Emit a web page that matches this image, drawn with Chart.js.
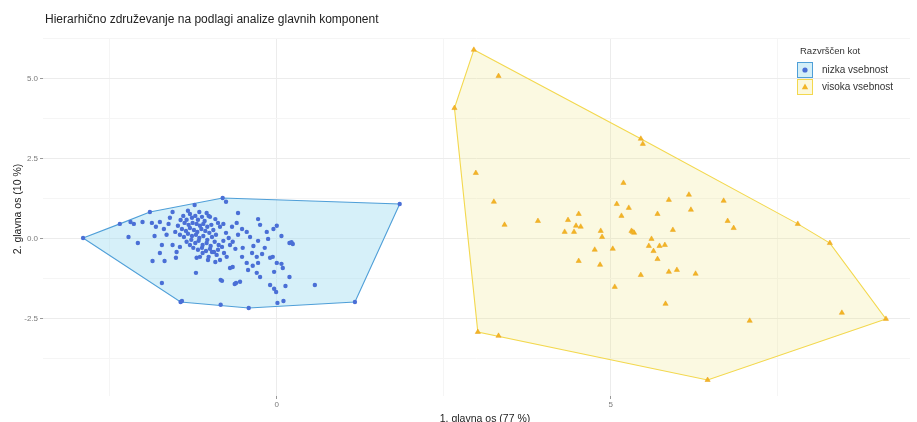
<!DOCTYPE html>
<html>
<head>
<meta charset="utf-8">
<script src="https://cdn.jsdelivr.net/npm/chart.js@4/dist/chart.umd.min.js"></script>
<style>
  html, body { margin: 0; padding: 0; background: #ffffff; }
  #wrap { width: 917px; height: 422px; position: relative; }
</style>
</head>
<body>
<div id="wrap"><canvas id="c" width="917" height="422"></canvas></div>
<script>
// PCA scores: [1. glavna os, 2. glavna os]
const nizkaPoints = [
  [-2.90,0.03],[-2.35,0.47],[-1.90,0.84],[-0.81,1.28],[1.84,1.09],[1.17,-1.97],[-0.42,-2.16],[-1.44,-1.97],
  [-2.19,0.53],[-2.14,0.47],[-2.01,0.53],[-1.87,0.50],[-1.75,0.53],[-2.22,0.06],[-2.08,-0.13],[-1.60,0.66],
  [-1.56,0.84],[-1.81,0.38],[-1.69,0.31],[-1.62,0.47],[-1.65,0.13],[-1.83,0.09],[-1.75,-0.44],[-1.86,-0.69],
  [-1.68,-0.69],[-1.72,-0.19],[-1.56,-0.19],[-1.50,-0.41],[-1.51,-0.59],[-1.45,-0.25],[-1.23,1.06],[-0.76,1.16],
  [-1.05,0.81],[-1.00,0.69],[-1.21,-1.06],[-1.72,-1.38],[-0.84,-1.28],[-0.63,-1.41],[-0.55,-1.34],[-0.70,-0.91],
  [-1.03,-0.66],[-0.58,0.81],[-0.85,0.38],[-0.67,0.38],[-0.25,0.44],[0.00,0.41],[-0.45,0.22],[-0.58,0.13],
  [-0.28,-0.06],[-0.13,0.00],[0.07,0.09],[0.19,-0.13],[0.24,-0.16],[0.22,-0.10],[-0.70,-0.19],[-0.51,-0.28],
  [-0.52,-0.56],[-0.37,-0.44],[-0.22,-0.47],[-0.10,-0.59],[-0.06,-0.56],[0.00,-0.75],[0.07,-0.78],[0.09,-0.91],
  [-0.45,-0.75],[-0.36,-0.84],[-0.66,-0.88],[-0.43,-0.97],[-0.85,-0.66],[-1.11,-0.44],[-0.97,-0.41],[-1.20,-0.59],
  [-1.15,-0.56],[-0.90,-0.50],[-0.82,-1.31],[-0.61,-1.38],[-0.25,-1.19],[-0.10,-1.44],[-0.04,-1.56],[-0.01,-1.66],
  [0.13,-1.47],[0.19,-1.19],[0.57,-1.44],[-1.42,-1.94],[-0.84,-2.06],[0.01,-2.00],[0.10,-1.94],[-0.30,-0.56],
  [-0.28,-0.75],[-0.04,-1.03],[-0.30,-1.06],
  [-1.40,0.72],[-1.35,0.60],[-1.30,0.78],[-1.27,0.66],[-1.22,0.72],[-1.18,0.60],[-1.12,0.69],[-1.08,0.56],
  [-1.38,0.50],[-1.32,0.44],[-1.26,0.50],[-1.20,0.47],[-1.15,0.41],[-1.10,0.47],[-1.04,0.38],[-0.98,0.44],
  [-1.42,0.31],[-1.36,0.25],[-1.30,0.34],[-1.24,0.28],[-1.19,0.22],[-1.13,0.31],[-1.07,0.25],[-1.01,0.19],
  [-0.95,0.28],[-1.45,0.13],[-1.39,0.06],[-1.33,0.16],[-1.27,0.09],[-1.21,0.13],[-1.16,0.03],[-1.10,0.09],
  [-1.04,-0.03],[-0.97,0.06],[-0.91,0.13],[-1.35,-0.09],[-1.28,-0.03],[-1.22,-0.13],[-1.17,-0.06],[-1.11,-0.19],
  [-1.05,-0.13],[-0.99,-0.22],[-0.93,-0.09],[-0.87,-0.19],[-1.25,-0.28],[-1.18,-0.34],[-1.12,-0.28],[-1.06,-0.38],
  [-1.00,-0.31],[-0.94,-0.41],[-0.88,-0.34],[-0.82,-0.25],[-0.79,-0.44],[-1.30,-0.19],[-1.48,0.41],[-1.52,0.22],
  [-1.44,0.59],[-1.33,0.88],[-1.16,0.84],[-1.02,0.72],[-0.92,0.62],[-0.88,0.50],[-0.80,0.47],[-0.76,0.19],
  [-0.72,0.03],[-0.80,-0.06],[-0.66,-0.09],[-0.62,-0.31],[-0.75,-0.56],[-0.92,-0.72],[-1.02,-0.56],[-0.60,0.50],
  [-0.52,0.31],[-0.40,0.06],[-0.35,-0.22],[-0.18,-0.28],[-0.15,0.22],[-0.28,0.62],[-0.05,0.31]
];

const visokaPoints = [
  [2.95,5.91],[3.32,5.09],[2.66,4.09],[5.45,3.13],[5.48,2.97],[2.98,2.06],[5.19,1.75],[3.25,1.16],
  [5.09,1.09],[5.27,0.97],[5.87,1.22],[6.17,1.38],[6.69,1.19],[6.20,0.91],[4.52,0.78],[5.16,0.72],
  [5.70,0.78],[6.75,0.56],[6.84,0.34],[7.80,0.47],[3.41,0.44],[3.91,0.56],[4.36,0.59],[4.48,0.41],
  [4.55,0.38],[4.31,0.22],[4.45,0.22],[4.85,0.25],[5.31,0.25],[5.35,0.19],[5.33,0.22],[5.93,0.28],
  [4.87,0.06],[5.61,0.00],[5.57,-0.22],[5.73,-0.22],[5.81,-0.19],[5.64,-0.38],[4.76,-0.34],[5.03,-0.31],
  [8.28,-0.13],[5.70,-0.63],[4.52,-0.69],[4.84,-0.81],[5.45,-1.13],[5.87,-1.03],[5.99,-0.97],[6.27,-1.09],
  [5.06,-1.50],[5.82,-2.03],[7.08,-2.56],[8.46,-2.31],[9.12,-2.50],[3.01,-2.91],[3.32,-3.03],[6.45,-4.41]
];

// convex hull outlines of each group (closed)
const nizkaHull = [[-2.90,0.03],[-2.35,0.47],[-1.90,0.84],[-0.81,1.28],[1.84,1.09],[1.17,-1.97],[-0.42,-2.16],[-1.44,-1.97],[-2.90,0.03]];
const visokaHull = [[2.95,5.91],[2.66,4.09],[3.01,-2.91],[6.45,-4.41],[9.12,-2.50],[8.28,-0.13],[7.80,0.47],[5.45,3.13],[2.95,5.91]];

const xTickLabels = [0, 5];
const yTickLabels = [-2.5, 0, 2.5, 5];
const groupNames = ['nizka vsebnost', 'visoka vsebnost'];

const toXY = arr => arr.map(([x, y]) => ({ x, y }));
const isIn = (v, list) => list.some(t => Math.abs(v - t) < 1e-6);

const FONT = '"Liberation Sans", Arial, sans-serif';
const BLUE = '#4a6fd6', BLUE_LINE = '#4f9fd8', BLUE_FILL = 'rgba(165,222,242,0.45)';
const GOLD = '#f2b526', GOLD_LINE = '#f3d84e', GOLD_FILL = 'rgba(240,230,130,0.24)';

const decorations = {
  id: 'decorations',
  afterDraw(chart) {
    const ctx = chart.ctx;
    ctx.save();
    // chart title
    ctx.fillStyle = '#222';
    ctx.font = '12px ' + FONT;
    ctx.textBaseline = 'middle';
    ctx.textAlign = 'left';
    ctx.fillText('Hierarhično združevanje na podlagi analize glavnih komponent', 45, 20);

    // axis titles
    ctx.font = '10.5px ' + FONT;
    ctx.textAlign = 'center';
    ctx.textBaseline = 'alphabetic';
    ctx.fillText('1. glavna os (77 %)', 485, 422);
    ctx.save();
    ctx.translate(21, 209);
    ctx.rotate(-Math.PI / 2);
    ctx.fillText('2. glavna os (10 %)', 0, 0);
    ctx.restore();

    // legend
    ctx.textAlign = 'left';
    ctx.textBaseline = 'middle';
    ctx.fillStyle = '#333';
    ctx.font = '9.5px ' + FONT;
    ctx.fillText('Razvrščen kot', 800, 51);

    const items = [
      { y: 70, line: BLUE_LINE, fill: 'rgb(212,239,248)', mark: 'dot' },
      { y: 87, line: GOLD_LINE, fill: 'rgb(251,248,220)', mark: 'tri' }
    ];
    items.forEach((it, i) => {
      ctx.fillStyle = it.fill;
      ctx.strokeStyle = it.line;
      ctx.lineWidth = 1;
      ctx.fillRect(797.5, it.y - 7.5, 15, 15);
      ctx.strokeRect(797.5, it.y - 7.5, 15, 15);
      if (it.mark === 'dot') {
        ctx.fillStyle = BLUE;
        ctx.beginPath();
        ctx.arc(805, it.y, 2.6, 0, Math.PI * 2);
        ctx.fill();
      } else {
        ctx.fillStyle = GOLD;
        ctx.beginPath();
        ctx.moveTo(805, it.y - 3.5);
        ctx.lineTo(808.2, it.y + 2.2);
        ctx.lineTo(801.8, it.y + 2.2);
        ctx.closePath();
        ctx.fill();
      }
      ctx.fillStyle = '#333';
      ctx.font = '10px ' + FONT;
      ctx.fillText(groupNames[i], 822, it.y);
    });
    ctx.restore();
  }
};

new Chart(document.getElementById('c'), {
  type: 'scatter',
  data: {
    datasets: [
      {
        label: groupNames[0],
        data: toXY(nizkaPoints),
        pointStyle: 'circle',
        pointRadius: 2.2,
        pointBackgroundColor: BLUE,
        pointBorderWidth: 0,
        order: 1
      },
      {
        label: groupNames[1],
        data: toXY(visokaPoints),
        pointStyle: 'triangle',
        pointRadius: 3.0,
        pointBackgroundColor: GOLD,
        pointBorderColor: '#eaa21a',
        pointBorderWidth: 0.5,
        order: 1
      },
      {
        type: 'line',
        label: 'hull-nizka',
        data: toXY(nizkaHull),
        showLine: true,
        tension: 0,
        borderColor: BLUE_LINE,
        borderWidth: 1.1,
        backgroundColor: BLUE_FILL,
        fill: 'shape',
        pointRadius: 0,
        order: 3
      },
      {
        type: 'line',
        label: 'hull-visoka',
        data: toXY(visokaHull),
        showLine: true,
        tension: 0,
        borderColor: GOLD_LINE,
        borderWidth: 1.1,
        backgroundColor: GOLD_FILL,
        fill: 'shape',
        pointRadius: 0,
        order: 3
      }
    ]
  },
  options: {
    responsive: false,
    animation: false,
    devicePixelRatio: 1,
    layout: { padding: { left: 0, top: 38, right: 7, bottom: 0 } },
    plugins: {
      legend: { display: false },
      tooltip: { enabled: false },
      title: { display: false }
    },
    scales: {
      x: {
        type: 'linear',
        min: -3.5,
        max: 9.48,
        border: { display: false },
        grid: {
          color: c => isIn(c.tick.value, xTickLabels) ? '#ececec' : '#f5f5f5',
          tickColor: c => isIn(c.tick.value, xTickLabels) ? '#999' : 'rgba(0,0,0,0)',
          tickLength: 3,
          lineWidth: 1
        },
        ticks: {
          stepSize: 2.5,
          includeBounds: false,
          autoSkip: false,
          maxRotation: 0,
          padding: 1,
          color: '#7a7a7a',
          font: { size: 8, family: FONT },
          callback: v => isIn(v, xTickLabels) ? String(Math.round(v)) : ''
        },
        afterFit: s => { s.height = 26; }
      },
      y: {
        type: 'linear',
        min: -4.91,
        max: 6.28,
        border: { display: false },
        grid: {
          color: c => isIn(c.tick.value, yTickLabels) ? '#ececec' : '#f5f5f5',
          tickColor: c => isIn(c.tick.value, yTickLabels) ? '#999' : 'rgba(0,0,0,0)',
          tickLength: 3,
          lineWidth: 1
        },
        ticks: {
          stepSize: 1.25,
          includeBounds: false,
          autoSkip: false,
          padding: 2,
          color: '#7a7a7a',
          font: { size: 8, family: FONT },
          callback: v => isIn(v, yTickLabels) ? v.toFixed(1) : ''
        },
        afterFit: s => { s.width = 43; }
      }
    }
  },
  plugins: [decorations]
});
</script>
</body>
</html>
